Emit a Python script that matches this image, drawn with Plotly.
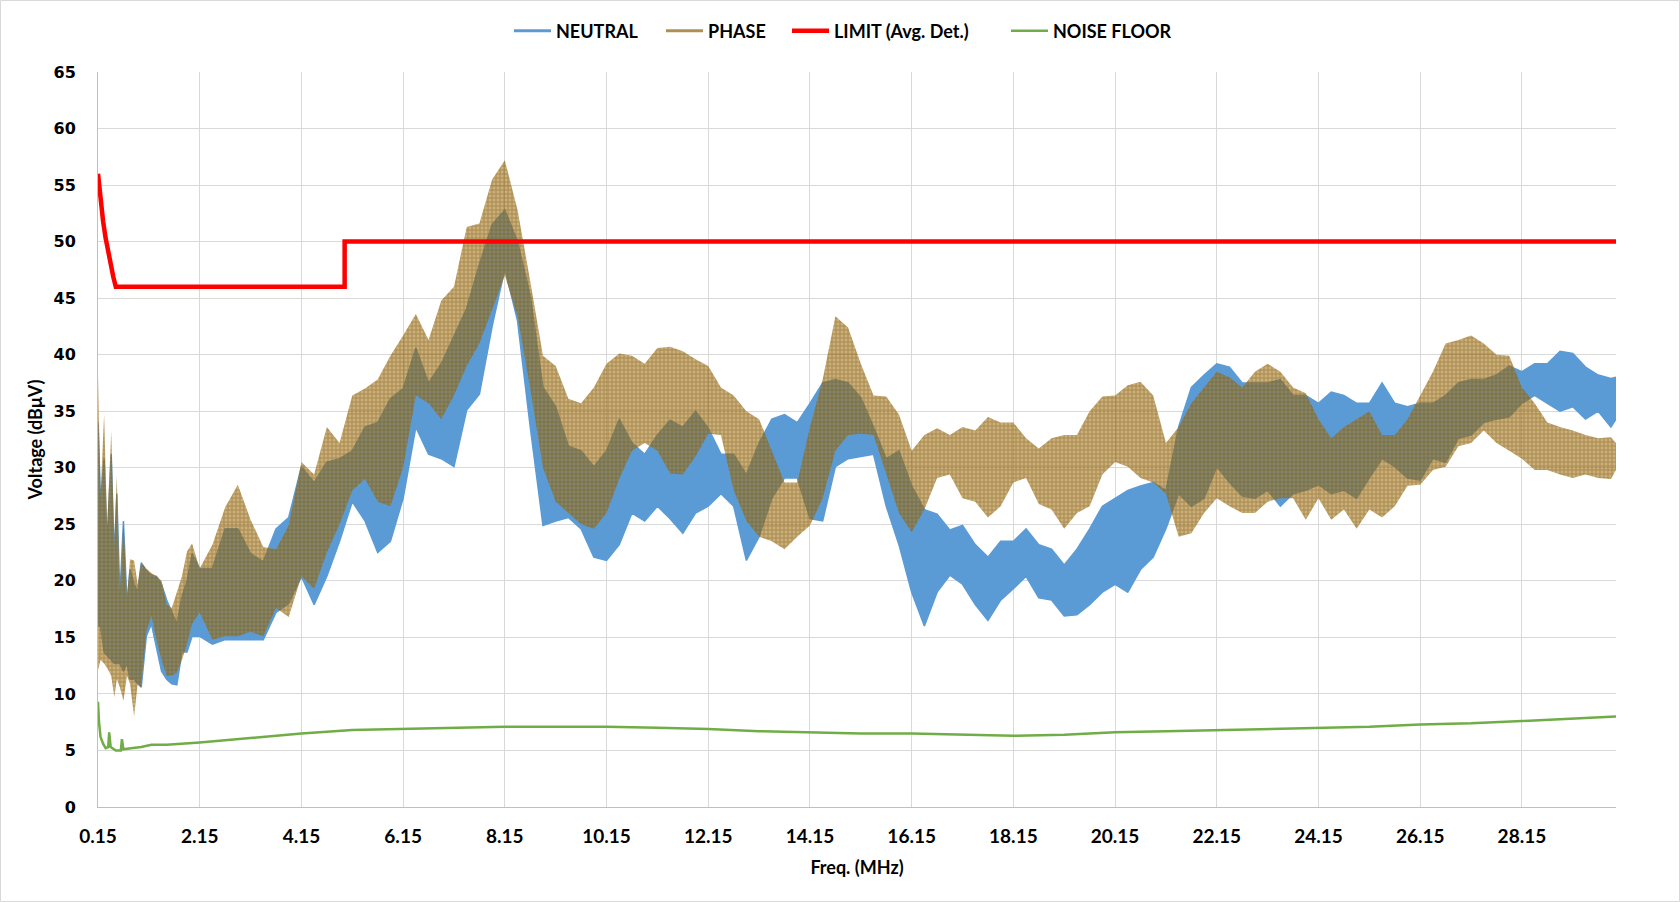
import plotly.graph_objects as go

# ---------------- data ----------------
FREQ = [0.15, 0.2, 0.27, 0.33, 0.41, 0.47, 0.52, 0.58, 0.65, 0.72, 0.78, 0.86, 0.93, 1.0, 1.1, 1.2, 1.3, 1.4, 1.5, 1.6, 1.7, 1.8, 1.9, 2.0, 2.15,
        2.4, 2.65, 2.9, 3.15, 3.4, 3.65, 3.9, 4.15, 4.4, 4.65, 4.9, 5.15, 5.4, 5.65, 5.9, 6.15, 6.4, 6.65, 6.9, 7.15, 7.4,
        7.65, 7.9, 8.15, 8.4, 8.65, 8.9, 9.15, 9.4, 9.65, 9.9, 10.15, 10.4, 10.65, 10.9, 11.15, 11.4, 11.65, 11.9, 12.15, 12.4, 12.65,
        12.9, 13.15, 13.4, 13.65, 13.9, 14.15, 14.4, 14.65, 14.9, 15.15, 15.4, 15.65, 15.9, 16.15, 16.4, 16.65, 16.9, 17.15, 17.4, 17.65, 17.9,
        18.15, 18.4, 18.65, 18.9, 19.15, 19.4, 19.65, 19.9, 20.15, 20.4, 20.65, 20.9, 21.15, 21.4, 21.65, 21.9, 22.15, 22.4, 22.65, 22.9, 23.15,
        23.4, 23.65, 23.9, 24.15, 24.4, 24.65, 24.9, 25.15, 25.4, 25.65, 25.9, 26.15, 26.4, 26.65, 26.9, 27.15, 27.4, 27.65, 27.9, 28.15, 28.4,
        28.65, 28.9, 29.15, 29.4, 29.65, 29.9, 30.0]

PHASE_HI = [38.2, 27.5, 34.7, 24.9, 33.2, 23.2, 29.3, 19.0, 25.3, 18.6, 21.9, 21.8, 19.7, 21.6, 21.1, 20.7, 20.4, 20.0, 17.9, 17.6, 19.0, 20.4, 22.6, 23.3, 21.1,
            23.2, 26.5, 28.5, 25.4, 23.0, 22.8, 24.9, 30.5, 29.4, 33.6, 32.2, 36.4, 37.0, 37.8, 39.9, 41.7, 43.6, 41.3, 44.8, 46.0, 51.3,
            51.6, 55.5, 57.2, 52.8, 46.5, 39.9, 39.0, 36.1, 35.7, 37.1, 39.2, 40.1, 39.9, 39.2, 40.6, 40.7, 40.3, 39.6, 39.0, 37.1, 36.4,
            35.0, 34.3, 31.5, 28.7, 28.7, 33.6, 37.8, 43.4, 42.4, 39.2, 36.4, 36.3, 34.7, 31.5, 32.9, 33.5, 32.9, 33.6, 33.3, 34.5, 34.0,
            34.0, 32.6, 31.7, 32.6, 32.9, 32.9, 35.0, 36.3, 36.4, 37.3, 37.6, 36.4, 32.2, 33.6, 35.7, 37.1, 38.5, 38.0, 37.1, 38.5, 39.2,
            38.5, 37.1, 36.6, 34.3, 32.6, 33.6, 34.3, 35.0, 32.9, 32.9, 34.3, 36.4, 38.5, 41.0, 41.3, 41.7, 41.0, 40.0, 39.9, 37.1, 35.7,
            34.0, 33.6, 33.3, 32.9, 32.6, 32.7, 32.2]

PHASE_LO = [12.1, 13.0, 12.7, 12.3, 11.6, 9.7, 11.3, 10.6, 9.4, 11.6, 10.9, 8.0, 10.9, 10.6, 15.5, 16.9, 14.8, 13.0, 11.6, 11.6, 11.9, 13.0, 14.4, 16.2, 17.2,
            14.8, 15.1, 15.1, 15.5, 15.1, 17.6, 16.8, 20.4, 19.3, 22.5, 25.0, 28.0, 29.0, 27.0, 26.6, 30.0, 36.4, 35.7, 34.3, 36.4, 39.0,
            41.0, 44.0, 47.0, 43.4, 37.0, 30.0, 27.0, 26.0, 25.0, 24.6, 26.0, 29.0, 31.5, 32.2, 31.5, 29.5, 29.4, 31.0, 33.0, 32.9, 28.0,
            25.3, 23.9, 23.5, 22.8, 23.9, 24.9, 27.3, 31.5, 32.9, 33.0, 32.9, 29.4, 26.0, 24.3, 26.3, 29.1, 29.4, 27.3, 27.0, 25.6, 26.6,
            28.7, 29.1, 26.8, 26.3, 24.6, 26.0, 26.6, 29.4, 30.5, 30.1, 29.1, 28.7, 27.7, 23.9, 24.2, 26.0, 27.3, 26.6, 26.0, 26.0, 27.0,
            27.3, 27.3, 25.4, 27.3, 25.4, 26.3, 24.6, 26.3, 25.6, 26.6, 28.4, 28.5, 29.8, 30.1, 31.9, 32.2, 33.3, 32.2, 31.5, 30.8, 29.8,
            29.8, 29.4, 29.1, 29.4, 29.1, 29.0, 29.8]

NEUTRAL_HI = [34.0, 27.0, 30.8, 23.2, 31.2, 22.1, 27.7, 18.6, 25.3, 17.9, 21.0, 19.7, 19.0, 21.6, 20.9, 20.5, 20.4, 19.7, 18.3, 17.2, 16.2, 18.6, 20.0, 22.4, 21.1,
              21.1, 24.6, 24.6, 22.4, 21.7, 24.6, 25.6, 30.1, 28.7, 30.5, 30.8, 31.5, 33.6, 34.0, 36.1, 37.0, 40.6, 37.5, 39.2, 41.7, 44.1,
              48.0, 51.5, 52.8, 50.0, 45.2, 37.1, 35.4, 31.9, 31.5, 30.1, 31.5, 34.3, 32.2, 31.2, 32.9, 34.2, 33.6, 35.0, 33.5, 31.2, 31.2,
              29.4, 32.2, 34.3, 34.7, 34.0, 35.7, 37.5, 37.8, 37.5, 36.2, 33.6, 30.8, 31.5, 28.4, 26.3, 25.9, 24.5, 24.9, 23.2, 22.1, 23.5,
              23.5, 24.6, 23.2, 22.8, 21.4, 22.8, 24.6, 26.6, 27.3, 28.0, 28.4, 28.7, 28.0, 33.6, 37.1, 38.2, 39.2, 38.9, 37.5, 37.5, 37.5,
              37.8, 36.4, 36.4, 35.7, 36.7, 36.4, 35.7, 35.7, 37.5, 35.7, 35.4, 35.7, 35.7, 36.4, 37.5, 37.8, 37.8, 38.2, 39.0, 38.5, 39.2,
              39.2, 40.3, 40.1, 38.9, 38.2, 37.9, 38.0]

NEUTRAL_LO = [16.0, 16.0, 13.7, 13.4, 13.0, 12.7, 12.7, 12.7, 12.0, 12.7, 11.3, 11.3, 10.9, 10.6, 15.1, 16.2, 14.1, 12.0, 11.3, 10.9, 10.8, 13.7, 13.7, 15.1, 15.1,
              14.4, 14.8, 14.8, 14.8, 14.8, 17.2, 18.0, 20.4, 17.9, 20.4, 23.5, 27.0, 25.3, 22.5, 23.5, 27.3, 33.6, 31.2, 30.8, 30.1, 35.1,
              36.5, 42.5, 47.6, 43.0, 33.6, 24.9, 25.3, 25.6, 24.6, 22.1, 21.8, 23.2, 26.0, 25.3, 26.6, 25.5, 24.2, 26.0, 26.6, 27.7, 26.6,
              21.8, 23.9, 27.3, 29.1, 29.1, 25.5, 25.3, 30.1, 30.8, 31.0, 31.2, 26.6, 23.2, 19.0, 16.0, 19.0, 20.5, 19.7, 17.9, 16.5, 18.3,
              19.3, 20.4, 18.5, 18.3, 16.9, 17.0, 17.9, 19.0, 19.7, 19.0, 21.0, 22.1, 24.6, 27.7, 26.6, 27.3, 30.1, 28.7, 27.5, 27.3, 28.0,
              26.6, 27.7, 28.0, 28.5, 27.7, 28.0, 27.3, 29.1, 30.8, 30.1, 29.1, 28.9, 30.8, 30.5, 32.6, 32.9, 34.0, 34.3, 34.5, 35.7, 36.4,
              35.7, 35.0, 35.4, 34.3, 35.0, 33.6, 34.3]

LIMIT_FREQ = [0.15, 0.2, 0.25, 0.3, 0.35, 0.4, 0.45, 0.5, 5.0, 5.0, 30.0]
LIMIT = [56.0, 53.6, 51.8, 50.3, 49.0, 47.9, 46.9, 46.0, 46.0, 50.0, 50.0]

NF_FREQ = [0.15, 0.17, 0.2, 0.25, 0.3, 0.35, 0.37, 0.4, 0.5, 0.6, 0.62, 0.65, 0.8, 1.0, 1.2, 1.5,
           2.15, 3.15, 4.15, 5.15, 6.15, 7.15, 8.15, 9.15, 10.15, 11.15, 12.15, 13.15, 14.15, 15.15,
           16.15, 17.15, 18.15, 19.15, 20.15, 21.15, 22.15, 23.15, 24.15, 25.15, 26.15, 27.15, 28.15, 29.15, 30.0]
NOISE_FLOOR = [9.3, 7.5, 6.2, 5.6, 5.2, 5.3, 6.6, 5.3, 5.0, 5.0, 6.0, 5.1, 5.2, 5.3, 5.5, 5.5,
               5.7, 6.1, 6.5, 6.8, 6.9, 7.0, 7.1, 7.1, 7.1, 7.0, 6.9, 6.7, 6.6, 6.5,
               6.5, 6.4, 6.3, 6.4, 6.6, 6.7, 6.8, 6.9, 7.0, 7.1, 7.3, 7.4, 7.6, 7.8, 8.0]

X_TICKS = [0.15, 2.15, 4.15, 6.15, 8.15, 10.15, 12.15, 14.15, 16.15, 18.15, 20.15, 22.15, 24.15, 26.15, 28.15]
X_TICK_LABELS = ["0.15", "2.15", "4.15", "6.15", "8.15", "10.15", "12.15", "14.15", "16.15", "18.15",
                 "20.15", "22.15", "24.15", "26.15", "28.15"]
Y_TICKS = [0, 5, 10, 15, 20, 25, 30, 35, 40, 45, 50, 55, 60, 65]

assert len(FREQ) == len(PHASE_HI) == len(PHASE_LO) == len(NEUTRAL_HI) == len(NEUTRAL_LO)
assert len(NF_FREQ) == len(NOISE_FLOOR)

# ---------------- layout geometry ----------------
W, H = 1680, 902
L, R, T, B = 98, 64, 72, 95
PW, PH = W - L - R, H - T - B


def px_x(px):
    return (px - L) / PW


def px_y(py):
    return (H - B - py) / PH


BLUE = "#5B9BD5"
RED = "#FF0000"
GREEN = "#70AD47"

fig = go.Figure()

# NEUTRAL band
fig.add_trace(go.Scatter(
    x=FREQ + FREQ[::-1], y=NEUTRAL_HI + NEUTRAL_LO[::-1],
    mode="lines", fill="toself", fillcolor=BLUE,
    line=dict(color=BLUE, width=1.5), showlegend=False, hoverinfo="skip"))

# PHASE band (patterned, semi transparent)
fig.add_trace(go.Scatter(
    x=FREQ + FREQ[::-1], y=PHASE_HI + PHASE_LO[::-1],
    mode="lines", fill="toself",
    fillcolor="rgba(165,115,25,0.58)",
    fillpattern=dict(shape="+", size=4, solidity=0.35,
                     fgcolor="rgba(105,75,0,0.9)", bgcolor="rgba(165,115,25,0.58)"),
    line=dict(color="rgba(0,0,0,0)", width=0), showlegend=False, hoverinfo="skip"))

# LIMIT
fig.add_trace(go.Scatter(
    x=LIMIT_FREQ, y=LIMIT, mode="lines", name="LIMIT (Avg. Det.)",
    line=dict(color=RED, width=4.5), legend="legend3", hoverinfo="skip"))

# NOISE FLOOR
fig.add_trace(go.Scatter(
    x=NF_FREQ, y=NOISE_FLOOR, mode="lines", name="NOISE FLOOR",
    line=dict(color=GREEN, width=2.5), legend="legend4", hoverinfo="skip"))

# legend-only entries for the band series
fig.add_trace(go.Scatter(x=[None], y=[None], mode="lines", name="NEUTRAL",
                         line=dict(color=BLUE, width=3), legend="legend"))
fig.add_trace(go.Scatter(x=[None], y=[None], mode="lines", name="PHASE",
                         line=dict(color="#B09050", width=3), legend="legend2"))

LEG_FONT = dict(family="Lato, Open Sans, sans-serif", size=18, color="#000000", weight="bold")
leg_y = px_y(31)


def legend_at(px):
    return dict(x=px_x(px), y=leg_y, xanchor="left", yanchor="middle", orientation="h",
                font=LEG_FONT, bgcolor="rgba(0,0,0,0)", itemwidth=37, borderwidth=0)


fig.update_layout(
    width=W, height=H,
    margin=dict(l=L, r=R, t=T, b=B, autoexpand=False),
    paper_bgcolor="white", plot_bgcolor="white",
    legend=legend_at(509), legend2=legend_at(661),
    legend3=legend_at(787), legend4=legend_at(1006),
    xaxis=dict(
        range=[0.15, 30.0], tickvals=X_TICKS, ticktext=X_TICK_LABELS,
        showgrid=True, gridcolor="#D9D9D9", gridwidth=1,
        showline=True, linecolor="#BFBFBF", linewidth=1, zeroline=False,
        ticks="", ticklabelstandoff=12,
        tickfont=dict(family="Lato, Open Sans, sans-serif", size=19, color="#000000", weight="bold"),
        title=dict(text="Freq. (MHz)", standoff=15,
                   font=dict(family="Lato, Open Sans, sans-serif", size=18, color="#000000", weight="bold")),
    ),
    yaxis=dict(
        range=[0, 65], tickvals=Y_TICKS,
        showgrid=True, gridcolor="#D9D9D9", gridwidth=1,
        showline=True, linecolor="#BFBFBF", linewidth=1, zeroline=False,
        ticks="", ticklabelstandoff=18,
        tickfont=dict(family="DejaVu Sans, Verdana, sans-serif", size=16, color="#000000", weight="bold"),
        title=dict(text="Voltage (dBμV)", standoff=6,
                   font=dict(family="Lato, Open Sans, sans-serif", size=18, color="#000000", weight="bold")),
    ),
    shapes=[dict(type="rect", xref="paper", yref="paper",
                 x0=px_x(0.5), x1=px_x(W - 0.5), y0=px_y(H - 0.5), y1=px_y(0.5),
                 line=dict(color="#D9D9D9", width=1), layer="below")],
)

fig.write_html("out.html", config={"displayModeBar": False},
               post_script="document.body.style.margin='0';")
